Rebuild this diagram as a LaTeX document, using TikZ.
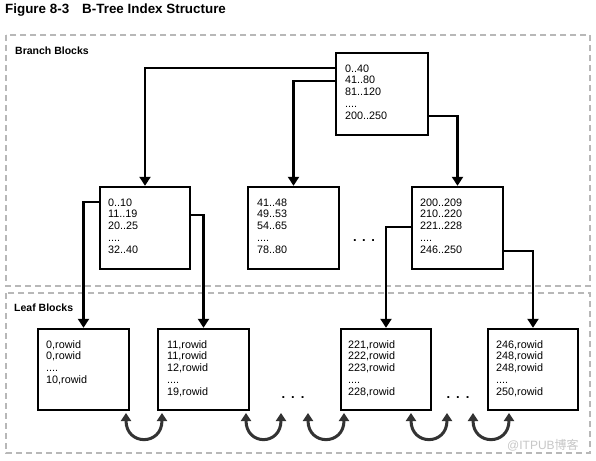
\documentclass[tikz,border=0pt]{standalone}
\usepackage{fontspec}
\setmainfont{Liberation Sans}
\newfontfamily\cjk{Noto Sans CJK SC}
\usetikzlibrary{arrows.meta}
\begin{document}
\begin{tikzpicture}[x=1pt,y=-1pt,
  blk/.style={draw=black,line width=2.4pt,inner sep=0pt},
  txt/.style={anchor=base west,inner sep=0pt,font=\fontsize{10.8}{11.8}\selectfont},
  conn/.style={line width=2.4pt,-{Triangle[width=11pt,length=9pt]}},
  framebox/.style={draw=black!28,line width=2.4pt,dash pattern=on 6pt off 4pt},
  linkarc/.style={draw=black!80,line width=3pt,{Triangle[width=10pt,length=8pt]}-{Triangle[width=10pt,length=8pt]}},
  lbl/.style={anchor=base west,inner sep=0pt,font=\fontsize{10.5}{12}\selectfont\bfseries},
  dotsty/.style={anchor=base,inner sep=0pt,font=\fontsize{13}{13}\selectfont\bfseries}]
\useasboundingbox (0,0) rectangle (596,460);
\fill[white] (0,0) rectangle (596,460);

% title
\node[anchor=base west,inner sep=0pt,font=\fontsize{13.4}{14}\selectfont\bfseries] (title) at (5,14) {Figure 8-3\hspace{13pt}B-Tree Index Structure};

% frames
\draw[framebox] (6,35) rectangle (590,286);
\draw[framebox] (6,293) rectangle (590,453);
\node[lbl] (lbB) at (15,55) {Branch Blocks};
\node[lbl] (lbL) at (14,311) {Leaf Blocks};

% root
\node[blk,minimum width=92pt,minimum height=82pt] (root) at (382,94) {};
\node[txt] (troot) at (345,72) {\parbox[t]{70pt}{0..40\\41..80\\81..120\\....\\200..250}};

% branch blocks
\node[blk,minimum width=90pt,minimum height=82pt] (b1) at (145,228) {};
\node[blk,minimum width=91pt,minimum height=82pt] (b2) at (293.5,228) {};
\node[blk,minimum width=91pt,minimum height=82pt] (b3) at (457.5,228) {};
\node[txt] (tb1) at (108,206) {\parbox[t]{70pt}{0..10\\11..19\\20..25\\....\\32..40}};
\node[txt] (tb2) at (257,206) {\parbox[t]{70pt}{41..48\\49..53\\54..65\\....\\78..80}};
\node[txt] (tb3) at (420,206) {\parbox[t]{70pt}{200..209\\210..220\\221..228\\....\\246..250}};

% leaf blocks
\node[blk,minimum width=91pt,minimum height=81pt] (l1) at (83.5,369.5) {};
\node[blk,minimum width=91pt,minimum height=81pt] (l2) at (203.5,369.5) {};
\node[blk,minimum width=90pt,minimum height=81pt] (l3) at (386,369.5) {};
\node[blk,minimum width=90pt,minimum height=81pt] (l4) at (533,369.5) {};
\node[txt] (tl1) at (46,348) {\parbox[t]{75pt}{0,rowid\\0,rowid\\....\\10,rowid}};
\node[txt] (tl2) at (167,348) {\parbox[t]{75pt}{11,rowid\\11,rowid\\12,rowid\\....\\19,rowid}};
\node[txt] (tl3) at (348,348) {\parbox[t]{75pt}{221,rowid\\222,rowid\\223,rowid\\....\\228,rowid}};
\node[txt] (tl4) at (496,348) {\parbox[t]{75pt}{246,rowid\\248,rowid\\248,rowid\\....\\250,rowid}};

% dots
\node[dotsty] (d1) at (364,241.5) {.\hspace{5.5pt}.\hspace{5.5pt}.};
\node[dotsty] (d2) at (293,398.5) {.\hspace{6pt}.\hspace{6pt}.};
\node[dotsty] (d3) at (458,398.5) {.\hspace{6pt}.\hspace{6pt}.};

% connectors
\draw[conn] ([yshift=-16pt]root.north west) -| (b1.north);
\draw[conn] ([yshift=-29pt]root.north west) -| (b2.north);
\draw[conn] ([yshift=-64pt]root.north east) -| (b3.north);
\draw[conn] ([yshift=-16pt]b1.north west) -| (l1.north);
\draw[conn] ([yshift=-29pt]b1.north east) -| (l2.north);
\draw[conn] ([yshift=-41pt]b3.north west) -| (l3.north);
\draw[conn] ([yshift=-65pt]b3.north east) -| (l4.north);

% sibling links
\coordinate (a1) at (126,413); \coordinate (a2) at (162,413);
\coordinate (a3) at (246,413); \coordinate (a4) at (281,413);
\coordinate (a5) at (308,413); \coordinate (a6) at (344,413);
\coordinate (a7) at (411,413); \coordinate (a8) at (447,413);
\coordinate (a9) at (473,413); \coordinate (a10) at (509,413);
\draw[linkarc] (a1) .. controls +(0,33) and +(0,33) .. (a2);
\draw[linkarc] (a3) .. controls +(0,33) and +(0,33) .. (a4);
\draw[linkarc] (a5) .. controls +(0,33) and +(0,33) .. (a6);
\draw[linkarc] (a7) .. controls +(0,33) and +(0,33) .. (a8);
\draw[linkarc] (a9) .. controls +(0,33) and +(0,33) .. (a10);

% watermark
\node[anchor=base west,inner sep=0pt,text=black!22,font=\fontsize{12}{12}\selectfont] (wm) at (507,449) {@ITPUB{\cjk 博客}};
\end{tikzpicture}
\end{document}
